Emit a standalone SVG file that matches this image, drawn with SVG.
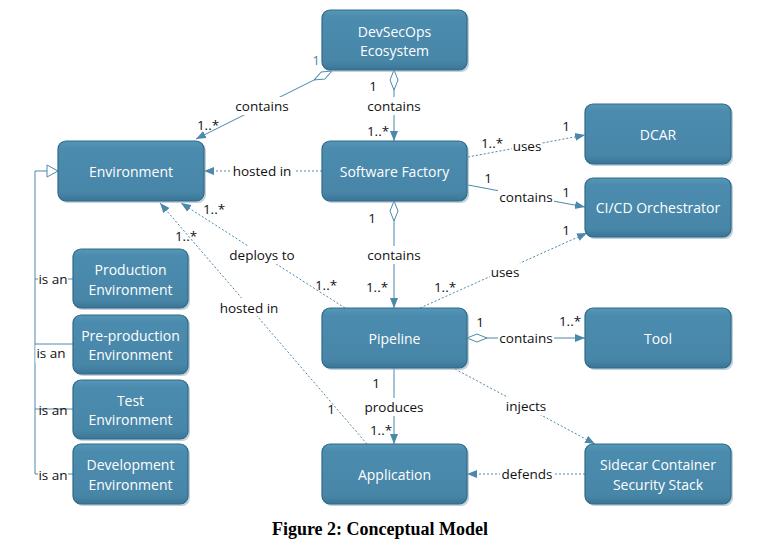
<svg xmlns="http://www.w3.org/2000/svg" width="780" height="555" viewBox="0 0 780 555">
<defs>
<linearGradient id="g" x1="0" y1="0" x2="0" y2="1">
<stop offset="0" stop-color="#5697b8"/>
<stop offset="0.12" stop-color="#4b8cae"/>
<stop offset="0.85" stop-color="#4886a8"/>
<stop offset="1" stop-color="#3b7596"/>
</linearGradient>
<marker id="a" viewBox="0 0 10 10" refX="10" refY="5" markerWidth="10" markerHeight="10" markerUnits="userSpaceOnUse" orient="auto">
<path d="M0,1 L10,5 L0,9 z" fill="#4a89aa"/>
</marker>
<marker id="d" viewBox="0 0 20 10" refX="0" refY="5" markerWidth="20" markerHeight="10" markerUnits="userSpaceOnUse" orient="auto">
<path d="M0,5 L10,1 L20,5 L10,9 z" fill="#fff" stroke="#4a89aa" stroke-width="1"/>
</marker>
<marker id="t" viewBox="0 0 12 14" refX="12" refY="7" markerWidth="12" markerHeight="14" markerUnits="userSpaceOnUse" orient="auto">
<path d="M1,1 L12,7 L1,13 z" fill="#fff" stroke="#4a89aa" stroke-width="1"/>
</marker>
</defs>
<style>
.n rect.b{fill:url(#g);stroke:#2f6a89;stroke-width:1.2}
.n rect.s{fill:#9bb3c2;opacity:0.6}
.n text{font-family:"Open Sans","Liberation Sans",sans-serif;font-size:14px;fill:#fff;text-anchor:middle;dominant-baseline:central}
.c line,.c path,.c polyline{fill:none;stroke:#4a89aa;stroke-width:1}
.c .dot{stroke-dasharray:2 2}
.l{font-family:"Open Sans","Liberation Sans",sans-serif;font-size:13.5px;fill:#111;text-anchor:middle;dominant-baseline:central}
.lb{fill:#fff}
</style>
<rect width="780" height="555" fill="#fff"/>
<g id="connectors" class="c">
<line x1="332" y1="71" x2="196" y2="139" marker-start="url(#d)" marker-end="url(#a)"/>
<line x1="394" y1="70" x2="394" y2="141" marker-start="url(#d)" marker-end="url(#a)"/>
<line class="dot" x1="322" y1="171" x2="204" y2="171" marker-end="url(#a)"/>
<line class="dot" x1="468" y1="157" x2="585" y2="135" marker-end="url(#a)"/>
<line x1="468" y1="185" x2="585" y2="207" marker-end="url(#a)"/>
<line x1="394" y1="201" x2="394" y2="308" marker-start="url(#d)" marker-end="url(#a)"/>
<line class="dot" x1="420" y1="308" x2="587" y2="233" marker-end="url(#a)"/>
<line class="dot" x1="345" y1="308" x2="181" y2="203" marker-end="url(#a)"/>
<line class="dot" x1="367" y1="444" x2="160" y2="203" marker-end="url(#a)"/>
<line x1="394" y1="368" x2="394" y2="444" marker-end="url(#a)"/>
<line x1="467" y1="338" x2="585" y2="338" marker-start="url(#d)" marker-end="url(#a)"/>
<line class="dot" x1="455" y1="369" x2="595" y2="444" marker-end="url(#a)"/>
<line class="dot" x1="585" y1="474" x2="467" y2="474" marker-end="url(#a)"/>
<polyline points="35,474 35,171 58,171" marker-end="url(#t)"/>
<line x1="35" y1="279" x2="73" y2="279"/>
<line x1="35" y1="344" x2="73" y2="344"/>
<line x1="35" y1="409" x2="73" y2="409"/>
<line x1="35" y1="474" x2="73" y2="474"/>
</g>
<g id="labels">
<rect class="lb" x="232" y="97" width="60" height="18"/>
<text class="l" x="262" y="106">contains</text>
<text class="l" x="208" y="125">1..*</text>
<text class="l" x="316" y="60" style="fill:#4a89aa">1</text>
<rect class="lb" x="364" y="97" width="60" height="18"/>
<text class="l" x="394" y="106">contains</text>
<text class="l" x="373" y="86">1</text>
<text class="l" x="378" y="131">1..*</text>
<rect class="lb" x="230" y="162" width="64" height="18"/>
<text class="l" x="262" y="171">hosted in</text>
<rect class="lb" x="512" y="137" width="30" height="18"/>
<text class="l" x="527" y="146">uses</text>
<text class="l" x="492" y="143">1..*</text>
<text class="l" x="566" y="126">1</text>
<rect class="lb" x="498" y="188" width="56" height="18"/>
<text class="l" x="526" y="197">contains</text>
<text class="l" x="488" y="178">1</text>
<text class="l" x="566" y="192">1</text>
<rect class="lb" x="364" y="246" width="60" height="18"/>
<text class="l" x="394" y="255">contains</text>
<text class="l" x="372" y="218">1</text>
<text class="l" x="377" y="287">1..*</text>
<rect class="lb" x="490" y="263" width="30" height="18"/>
<text class="l" x="505" y="272">uses</text>
<text class="l" x="445" y="287">1..*</text>
<text class="l" x="566" y="230">1</text>
<rect class="lb" x="227" y="246" width="71" height="18"/>
<text class="l" x="262" y="255">deploys to</text>
<text class="l" x="214" y="209">1..*</text>
<text class="l" x="326" y="285">1..*</text>
<rect class="lb" x="217" y="298" width="64" height="18"/>
<text class="l" x="249" y="308">hosted in</text>
<text class="l" x="186" y="236">1..*</text>
<text class="l" x="331" y="409">1</text>
<rect class="lb" x="362" y="398" width="64" height="18"/>
<text class="l" x="394" y="407">produces</text>
<text class="l" x="376" y="383">1</text>
<text class="l" x="381" y="430">1..*</text>
<rect class="lb" x="498" y="329" width="56" height="18"/>
<text class="l" x="526" y="338">contains</text>
<text class="l" x="480" y="322">1</text>
<text class="l" x="570" y="321">1..*</text>
<rect class="lb" x="503" y="397" width="46" height="18"/>
<text class="l" x="526" y="406">injects</text>
<rect class="lb" x="500" y="465" width="54" height="18"/>
<text class="l" x="527" y="474">defends</text>
<rect class="lb" x="38" y="270" width="30" height="18"/>
<text class="l" x="53" y="279">is an</text>
<rect class="lb" x="35.5" y="345" width="31" height="18"/>
<text class="l" x="51" y="353">is an</text>
<text class="l" x="53" y="410">is an</text>
<rect class="lb" x="38" y="466" width="30" height="18"/>
<text class="l" x="53" y="475">is an</text>
</g>
<g id="devsecops" class="n"><rect class="s" x="324" y="12" width="145" height="60" rx="8"/><rect class="b" x="322" y="10" width="145" height="60" rx="8"/><text x="394.5" y="31">DevSecOps</text><text x="394.5" y="50">Ecosystem</text></g>
<g id="environment" class="n"><rect class="s" x="60" y="143" width="146" height="60" rx="8"/><rect class="b" x="58" y="141" width="146" height="60" rx="8"/><text x="131" y="171">Environment</text></g>
<g id="software-factory" class="n"><rect class="s" x="324" y="143" width="145" height="60" rx="8"/><rect class="b" x="322" y="141" width="145" height="60" rx="8"/><text x="394.5" y="171">Software Factory</text></g>
<g id="dcar" class="n"><rect class="s" x="587" y="106" width="146" height="60" rx="8"/><rect class="b" x="585" y="104" width="146" height="60" rx="8"/><text x="658" y="134">DCAR</text></g>
<g id="cicd" class="n"><rect class="s" x="587" y="180" width="146" height="59" rx="8"/><rect class="b" x="585" y="178" width="146" height="59" rx="8"/><text x="658" y="207.5">CI/CD Orchestrator</text></g>
<g id="pipeline" class="n"><rect class="s" x="324" y="310" width="145" height="60" rx="8"/><rect class="b" x="322" y="308" width="145" height="60" rx="8"/><text x="394.5" y="338">Pipeline</text></g>
<g id="tool" class="n"><rect class="s" x="587" y="310" width="146" height="60" rx="8"/><rect class="b" x="585" y="308" width="146" height="60" rx="8"/><text x="658" y="338">Tool</text></g>
<g id="application" class="n"><rect class="s" x="324" y="446" width="145" height="60" rx="8"/><rect class="b" x="322" y="444" width="145" height="60" rx="8"/><text x="394.5" y="474">Application</text></g>
<g id="sidecar" class="n"><rect class="s" x="587" y="446" width="146" height="60" rx="8"/><rect class="b" x="585" y="444" width="146" height="60" rx="8"/><text x="658" y="464">Sidecar Container</text><text x="658" y="484">Security Stack</text></g>
<g id="production" class="n"><rect class="s" x="75" y="251" width="115" height="59" rx="8"/><rect class="b" x="73" y="249" width="115" height="59" rx="8"/><text x="130.5" y="269">Production</text><text x="130.5" y="289">Environment</text></g>
<g id="preproduction" class="n"><rect class="s" x="75" y="317" width="115" height="59" rx="8"/><rect class="b" x="73" y="315" width="115" height="59" rx="8"/><text x="130.5" y="335">Pre-production</text><text x="130.5" y="354">Environment</text></g>
<g id="test" class="n"><rect class="s" x="75" y="382" width="115" height="59" rx="8"/><rect class="b" x="73" y="380" width="115" height="59" rx="8"/><text x="130.5" y="400">Test</text><text x="130.5" y="419">Environment</text></g>
<g id="development" class="n"><rect class="s" x="75" y="446" width="115" height="60" rx="8"/><rect class="b" x="73" y="444" width="115" height="60" rx="8"/><text x="130.5" y="464">Development</text><text x="130.5" y="484">Environment</text></g>
<text x="380" y="535" style="font-family:'Liberation Serif',serif;font-weight:bold;font-size:18px;text-anchor:middle;fill:#000">Figure 2: Conceptual Model</text>
</svg>
